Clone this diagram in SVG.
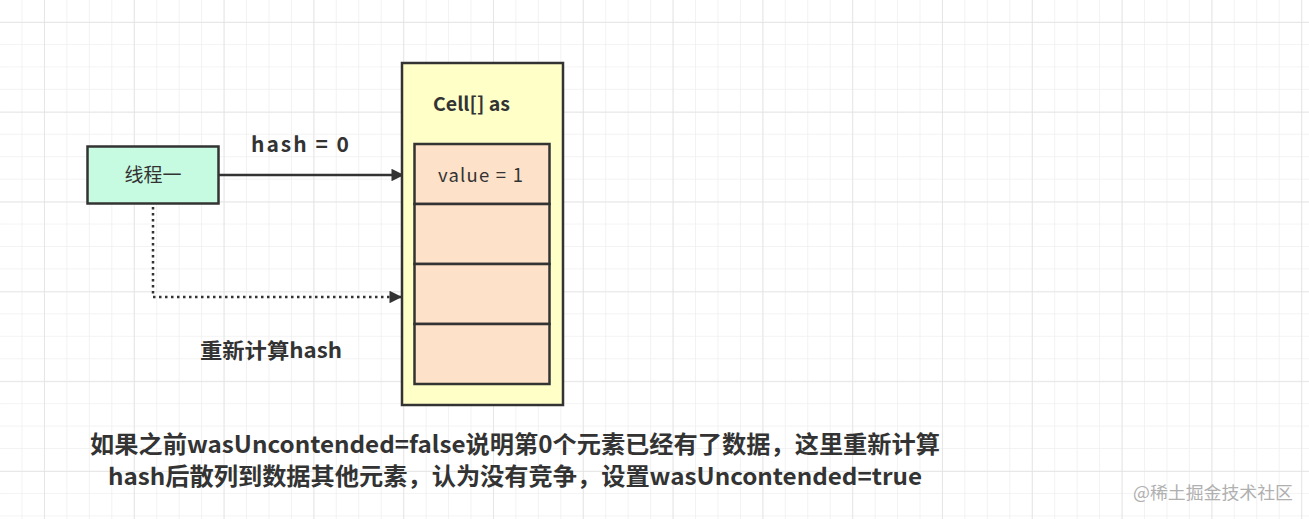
<svg xmlns="http://www.w3.org/2000/svg" width="1309" height="519" viewBox="0 0 1309 519">
<style>
.box{stroke:#333;stroke-width:2.5}
.cell{fill:#fde1c9;stroke:#333;stroke-width:2.5}
.b{font-family:"Noto Sans CJK SC","Noto Sans",sans-serif;font-weight:bold;fill:#333}
.n{font-family:"Noto Sans CJK SC","Noto Sans",sans-serif;fill:#333}
.edge{stroke:#333;stroke-width:2.5;fill:none}
</style>
<defs>
<pattern id="minor" x="21.5" y="21.5" width="22.45" height="22.45" patternUnits="userSpaceOnUse">
<path d="M0 0H22.45M0 0V22.45" stroke="#efefef" stroke-width="1.5" fill="none"/>
</pattern>
<pattern id="major" x="44" y="22" width="89.8" height="89.8" patternUnits="userSpaceOnUse">
<path d="M0 0H89.8M0 0V89.8" stroke="#e2e2e2" stroke-width="1.5" fill="none"/>
</pattern>
<marker id="arr" viewBox="0 0 10 10" refX="10" refY="5" markerWidth="7.5" markerHeight="5" markerUnits="strokeWidth" orient="auto">
<path d="M0 0L10 5L0 10Z" fill="#333"/>
</marker>
</defs>
<rect width="1309" height="519" fill="#fff"/>
<rect width="1309" height="519" fill="url(#minor)"/>
<rect width="1309" height="519" fill="url(#major)"/>

<g id="connectors">
<path class="edge" d="M219 175H404" marker-end="url(#arr)"/>
<path class="edge" d="M153 207V297H402" stroke-dasharray="2.5 3.5" marker-end="url(#arr)"/>
</g>

<g id="thread">
<rect class="box" x="87.5" y="146.5" width="131" height="57" fill="#c6fbe2"/>
<text class="n" x="153" y="182" font-size="19" text-anchor="middle">线程一</text>
</g>

<g id="cells">
<rect class="box" x="402" y="63" width="161" height="342" fill="#ffffc8"/>
<text class="b" x="433" y="111" font-size="19" textLength="77" lengthAdjust="spacingAndGlyphs">Cell[] as</text>
<rect class="cell" x="414.5" y="144" width="135" height="60"/>
<rect class="cell" x="414.5" y="204" width="135" height="60"/>
<rect class="cell" x="414.5" y="264" width="135" height="60"/>
<rect class="cell" x="414.5" y="324" width="135" height="60"/>
<text class="n" x="438" y="182" font-size="18.5" textLength="85" lengthAdjust="spacing">value = 1</text>
</g>

<g id="labels">
<text class="b" x="251" y="152" font-size="21" textLength="98" lengthAdjust="spacing">hash = 0</text>
<text class="b" x="200" y="358" font-size="21" textLength="142" lengthAdjust="spacingAndGlyphs">重新计算hash</text>
<text class="b" x="90" y="453" font-size="23.5" textLength="850" lengthAdjust="spacingAndGlyphs">如果之前wasUncontended=false说明第0个元素已经有了数据，这里重新计算</text>
<text class="b" x="108" y="485" font-size="23.5" textLength="814" lengthAdjust="spacingAndGlyphs">hash后散列到数据其他元素，认为没有竞争，设置wasUncontended=true</text>
<text x="1133" y="499" font-size="17.5" textLength="160" lengthAdjust="spacingAndGlyphs" font-family="Noto Sans CJK SC,sans-serif" fill="#b0b0b0">@稀土掘金技术社区</text>
</g>
</svg>
